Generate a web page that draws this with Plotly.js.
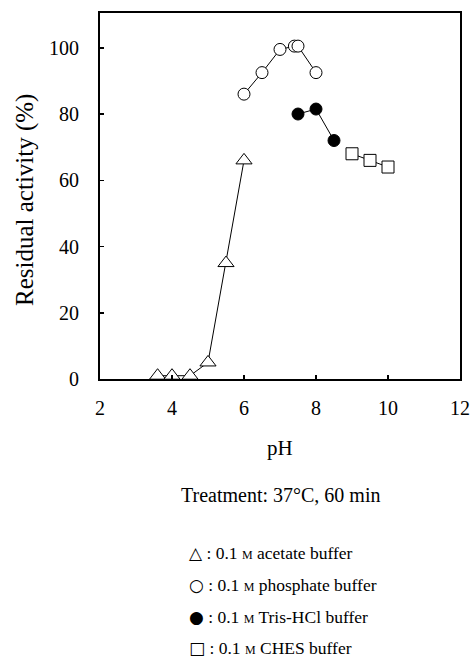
<!DOCTYPE html>
<html>
<head>
<meta charset="utf-8">
<script src="https://cdn.plot.ly/plotly-3.0.1.min.js"></script>
<style>html,body{margin:0;padding:0;background:#fff;}#chart{width:476px;height:657px;}</style>
</head>
<body>
<div id="chart"></div>
<script>
const acetatePH = [3.6, 4.0, 4.5, 5.0, 5.5, 6.0];
const acetateAct = [1, 1, 1, 5, 35, 66];
const phosphatePH = [6.0, 6.5, 7.0, 7.4, 7.5, 8.0];
const phosphateAct = [86, 92.5, 99.5, 100.5, 100.5, 92.5];
const trisPH = [7.5, 8.0, 8.5];
const trisAct = [80, 81.5, 72];
const chesPH = [9.0, 9.5, 10.0];
const chesAct = [68, 66, 64];
const xTicks = [2, 4, 6, 8, 10, 12];
const yTicks = [0, 20, 40, 60, 80, 100];
const legendSymbols = ['△', '○', '●', '□'];
const legendLabels = ['acetate buffer', 'phosphate buffer', 'Tris-HCl buffer', 'CHES buffer'];

const serif = '"Liberation Serif", "Times New Roman", serif';
function mk(x, y, symbol, filled) {
  return {
    x: x, y: y, type: 'scatter', mode: 'lines+markers', cliponaxis: false,
    line: {color: '#000', width: 1},
    marker: {symbol: symbol, size: symbol === 'triangle-up' ? 14 : 12,
      color: filled ? '#000' : '#fff', line: {color: '#000', width: 1}},
    showlegend: false, hoverinfo: 'x+y'
  };
}
const traces = [
  mk(acetatePH, acetateAct, 'triangle-up', false),
  mk(phosphatePH, phosphateAct, 'circle', false),
  mk(trisPH, trisAct, 'circle', true),
  mk(chesPH, chesAct, 'square', false)
];

const L = 100, R = 460, W = R - L;
const T = 13, B = 379, H = B - T;
function py(pix) { return (B - pix) / H; }
function px(pix) { return (pix - L) / W; }

const annotations = [
  {text: 'pH', x: 0.5, y: py(448), xref: 'paper', yref: 'paper', xanchor: 'center', yanchor: 'middle', showarrow: false, font: {family: serif, size: 21, color: '#000'}},
  {text: 'Treatment: 37°C, 60 min', x: 0.5, y: py(495), xref: 'paper', yref: 'paper', xanchor: 'center', yanchor: 'middle', showarrow: false, font: {family: serif, size: 20, color: '#000'}},
  {text: 'Residual activity (%)', x: px(25), y: py(200), xref: 'paper', yref: 'paper', xanchor: 'center', yanchor: 'middle', textangle: -90, showarrow: false, font: {family: serif, size: 25, color: '#000'}}
];
const legY = [553, 585, 617, 648];
legendLabels.forEach((t, i) => annotations.push({
  text: '<span style="font-family:DejaVu Sans;font-size:17px">' + legendSymbols[i] + '</span> : 0.1 <span style="font-size:12px">M</span> ' + t,
  x: px(187), y: py(legY[i]), xref: 'paper', yref: 'paper', xanchor: 'left', yanchor: 'middle', showarrow: false,
  font: {family: serif, size: 17.5, color: '#000'}
}));

const layout = {
  width: 476, height: 657,
  margin: {l: L, r: 476 - R, t: T, b: 657 - B},
  paper_bgcolor: '#fff', plot_bgcolor: '#fff',
  showlegend: false,
  xaxis: {range: [2, 12], tickvals: xTicks, ticks: 'inside', ticklen: 4, tickwidth: 1.5, tickcolor: '#000',
    showline: true, linecolor: '#000', linewidth: 2, mirror: true, showgrid: false, zeroline: false,
    ticklabelstandoff: 10, tickfont: {family: serif, size: 20, color: '#000'}},
  yaxis: {range: [0, 110.5], tickvals: yTicks, ticks: 'inside', ticklen: 4, tickwidth: 1.5, tickcolor: '#000',
    showline: true, linecolor: '#000', linewidth: 2, mirror: true, showgrid: false, zeroline: false,
    ticklabelstandoff: 15, tickfont: {family: serif, size: 20, color: '#000'}},
  annotations: annotations
};
Plotly.newPlot('chart', traces, layout, {displayModeBar: false, staticPlot: true});
</script>
</body>
</html>
